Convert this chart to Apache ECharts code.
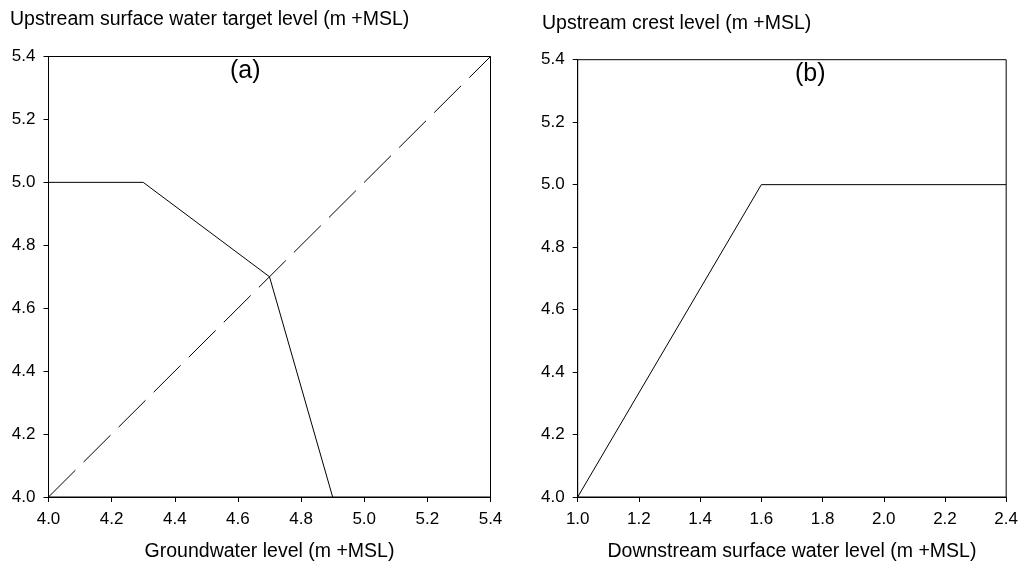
<!DOCTYPE html>
<html>
<head>
<meta charset="utf-8">
<script src="https://cdn.jsdelivr.net/npm/echarts@6/dist/echarts.min.js"></script>
<style>
html,body{margin:0;padding:0;background:#fff;}
#chart{width:1021px;height:567px;}
</style>
</head>
<body>
<div id="chart"></div>
<script>
// Panel (a): groundwater level vs upstream surface water target level
const gwLevel    = [4.0, 4.3, 4.7, 4.9];
const targetLvl  = [5.0, 5.0, 4.7, 4.0];
const diagX      = [4.0, 5.4];
const diagY      = [4.0, 5.4];
// Panel (b): downstream surface water level vs upstream crest level
const dsLevel    = [1.0, 1.6, 2.4];
const crestLvl   = [4.0, 5.0, 5.0];

const titleA = 'Upstream surface water target level (m +MSL)';
const titleB = 'Upstream crest level (m +MSL)';
const xNameA = 'Groundwater level (m +MSL)';
const xNameB = 'Downstream surface water level (m +MSL)';

const FONT = 'Arial, "Liberation Sans", sans-serif';
const fmt = v => v.toFixed(1);

function xAxis(idx, min, max, name) {
  return {
    type: 'value', gridIndex: idx, min: min, max: max, interval: 0.2,
    name: name, nameLocation: 'middle', nameGap: 45,
    nameTextStyle: {color: '#000', fontSize: 19.5, fontFamily: FONT},
    axisLine: {show: true, lineStyle: {color: '#000', width: 1}},
    axisTick: {show: true, inside: false, length: 5, lineStyle: {color: '#000'}},
    axisLabel: {color: '#000', fontSize: 17, fontFamily: FONT, margin: 14, formatter: fmt},
    splitLine: {show: false}
  };
}
function yAxis(idx, min, max) {
  return {
    type: 'value', gridIndex: idx, min: min, max: max, interval: 0.2,
    axisLine: {show: true, lineStyle: {color: '#000', width: 1}},
    axisTick: {show: true, inside: false, length: 5, lineStyle: {color: '#000'}},
    axisLabel: {color: '#000', fontSize: 17, fontFamily: FONT, margin: 13, formatter: fmt},
    splitLine: {show: false}
  };
}

const option = {
  backgroundColor: '#fff',
  animation: false,
  title: [
    {text: titleA, left: 10, top: 10, textStyle: {color: '#000', fontSize: 19.5, fontWeight: 'normal', fontFamily: FONT}, padding: 0},
    {text: titleB, left: 542, top: 14, textStyle: {color: '#000', fontSize: 19.5, fontWeight: 'normal', fontFamily: FONT}, padding: 0},
    {text: '(a)', left: 230, top: 59, textStyle: {color: '#000', fontSize: 25, fontWeight: 'normal', fontFamily: FONT}, padding: 0},
    {text: '(b)', left: 795, top: 62, textStyle: {color: '#000', fontSize: 25, fontWeight: 'normal', fontFamily: FONT}, padding: 0}
  ],
  grid: [
    {left: 48.5, top: 56.5, width: 442, height: 441, show: true, borderColor: '#000', borderWidth: 1, backgroundColor: 'transparent', containLabel: false},
    {left: 577.7, top: 59.7, width: 429.6, height: 439.6, show: true, borderColor: '#000', borderWidth: 1, backgroundColor: 'transparent', containLabel: false}
  ],
  xAxis: [xAxis(0, 4.0, 5.4, xNameA), xAxis(1, 1.0, 2.4, xNameB)],
  yAxis: [yAxis(0, 4.0, 5.4), yAxis(1, 4.0, 5.4)],
  series: [
    {type: 'line', xAxisIndex: 0, yAxisIndex: 0, showSymbol: false, symbol: 'none',
     data: gwLevel.map((x, i) => [x, targetLvl[i]]),
     lineStyle: {color: '#000', width: 1}},
    {type: 'line', xAxisIndex: 0, yAxisIndex: 0, showSymbol: false, symbol: 'none',
     data: diagX.map((x, i) => [x, diagY[i]]),
     lineStyle: {color: '#000', width: 1, type: [38, 11.5]}},
    {type: 'line', xAxisIndex: 1, yAxisIndex: 1, showSymbol: false, symbol: 'none',
     data: dsLevel.map((x, i) => [x, crestLvl[i]]),
     lineStyle: {color: '#000', width: 1}}
  ]
};

const chart = echarts.init(document.getElementById('chart'), null, {renderer: 'canvas'});
chart.setOption(option);
</script>
</body>
</html>
